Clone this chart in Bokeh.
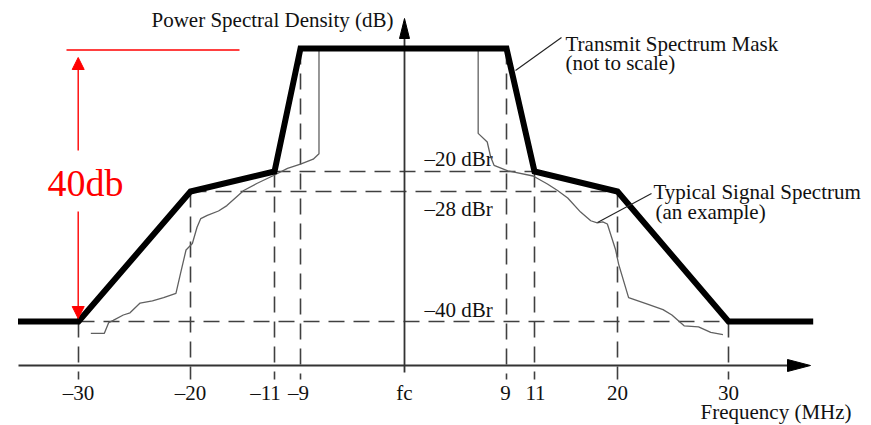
from bokeh.plotting import figure
from bokeh.models import ColumnDataSource, LinearInterpolator, Range1d, Arrow, NormalHead, Label
from bokeh.transform import transform
from bokeh.core.properties import value
from bokeh.embed import file_html
from bokeh.resources import INLINE
import numpy as np

# ---------------- data ----------------
FREQ_TICKS = [-30, -20, -11, -9, 0, 9, 11, 20, 30]
TICK_LABELS = ["\u201330", "\u201320", "\u201311", "\u20139", "fc", "9", "11", "20", "30"]

LEVELS_DBR = [-20, -28, -40]
LEVEL_LABELS = ["\u201320 dBr", "\u201328 dBr", "\u201340 dBr"]

MASK_FREQ = [-35.5, -30, -20, -11, -9, 9, 11, 20, 30, 37.7]
MASK_DBR = [-40, -40, -28, -20, 0, 0, -20, -28, -40, -40]

SIGNAL_FREQ = [-28.9, -27.7, -27.3, -26.9, -26.0, -25.4, -24.5, -23.4, -22.4, -21.3,
               -20.9, -20.4, -19.8, -19.3, -18.9, -18.2, -17.0, -16.1, -14.3, -12.9,
               -11.1, -10.0, -9.0, -7.9, -7.4, -7.4, 6.5, 6.5, 7.3, 7.6,
               7.9, 9.1, 10.9, 12.4, 13.5, 14.6, 16.0, 17.1, 17.8, 18.4,
               18.9, 19.8, 20.1, 21.0, 22.7, 24.1, 24.9, 26.0, 27.3, 28.4, 29.5]
SIGNAL_DBR = [-41.1, -41.1, -40.1, -39.9, -39.4, -39.2, -38.3, -38.1, -37.8, -37.4,
              -35.6, -33.4, -32.8, -31.3, -30.5, -30.2, -29.8, -29.3, -27.6, -24.8,
              -21.6, -19.5, -18.8, -18.0, -17.1, 0, 0, -13.8, -15.2, -17.6,
              -19.0, -19.9, -21.8, -25.0, -27.6, -28.6, -29.9, -30.7, -30.9, -30.8,
              -31.0, -33.4, -34.7, -37.8, -38.4, -38.9, -39.4, -40.4, -40.5, -41.0, -41.2]

# ---------------- "not to scale" axis scales (value -> drawing units) ----------------
FREQ_SCALE_IN = [-36, -30, -20, -11, -9, 0, 9, 11, 20, 30, 38]
FREQ_SCALE_OUT = [12, 78, 190, 274, 300, 404, 506, 534, 617, 728, 816]
DBR_SCALE_IN = [5, 0, -20, -28, -40, -48]
DBR_SCALE_OUT = [17, 48, 171, 191, 321, 408]

fx = LinearInterpolator(x=FREQ_SCALE_IN, y=FREQ_SCALE_OUT, clip=False)
fy = LinearInterpolator(x=DBR_SCALE_IN, y=DBR_SCALE_OUT, clip=False)

# ---------------- layout ----------------
W, H = 871, 425
FONT_NAME = "Liberation Serif"
FONT = value(FONT_NAME)
FS = "21px"
INK = "#111111"
GRID_C = "#404040"
AXIS_Y = 365
AXIS_X0 = 18
AXIS_TIP_X = 810
VAXIS_BOTTOM = 372
VAXIS_TIP_Y = 18
TICK_BOTTOM = 379
TICK_LABEL_Y = 392
TICK_LABEL_DX = [0, 0, -9, -2, 0, -1, 1, 0, 0]
LEVEL_LABEL_X = 424
LEVEL_LABEL_DY = [-13, 17, -12]

p = figure(width=W, height=H, x_range=Range1d(0, W), y_range=Range1d(H, 0),
           x_axis_type=None, y_axis_type=None, toolbar_location=None,
           output_backend="svg", min_border=0, outline_line_color=None)
p.background_fill_color = "white"
p.border_fill_color = "white"

# dashed vertical guides from the mask down to the tick marks
vt = [f for f in FREQ_TICKS if f != 0]
vtop = list(np.interp(vt, MASK_FREQ, MASK_DBR))
vsrc = ColumnDataSource(dict(f=vt, top=vtop))
p.segment(x0=transform("f", fx), y0=transform("top", fy), x1=transform("f", fx), y1=TICK_BOTTOM,
          source=vsrc, line_color=GRID_C, line_width=1.6, line_dash="16 9")

# dashed horizontal guides at the mask levels
mask_at_ticks = np.interp(FREQ_TICKS, MASK_FREQ, MASK_DBR)
h0, h1 = [], []
for lv in LEVELS_DBR:
    fs = [f for f, m in zip(FREQ_TICKS, mask_at_ticks) if abs(m - lv) < 1e-9]
    h0.append(min(fs)); h1.append(max(fs))
hsrc = ColumnDataSource(dict(f0=h0, f1=h1, lv=LEVELS_DBR, label=LEVEL_LABELS, dy=LEVEL_LABEL_DY))
p.segment(x0=transform("f0", fx), y0=transform("lv", fy), x1=transform("f1", fx), y1=transform("lv", fy),
          source=hsrc, line_color=GRID_C, line_width=1.6, line_dash="16 9")

# axes
p.segment(x0=AXIS_X0, y0=AXIS_Y, x1=AXIS_TIP_X - 20, y1=AXIS_Y, line_color="#333333", line_width=1.8)
p.patch(x=[AXIS_TIP_X - 23, AXIS_TIP_X, AXIS_TIP_X - 23], y=[AXIS_Y - 6, AXIS_Y, AXIS_Y + 6],
        fill_color="black", line_color="black")
fcsrc = ColumnDataSource(dict(f=[0]))
p.segment(x0=transform("f", fx), y0=VAXIS_BOTTOM, x1=transform("f", fx), y1=VAXIS_TIP_Y + 18,
          source=fcsrc, line_color="#333333", line_width=1.8)
p.patch(x=[399, 404, 409], y=[VAXIS_TIP_Y + 20, VAXIS_TIP_Y, VAXIS_TIP_Y + 20],
        fill_color="black", line_color="black")

# typical signal spectrum
ssrc = ColumnDataSource(dict(f=SIGNAL_FREQ, d=SIGNAL_DBR))
p.line(x=transform("f", fx), y=transform("d", fy), source=ssrc, line_color="#606060", line_width=1.3)

# transmit spectrum mask
msrc = ColumnDataSource(dict(f=MASK_FREQ, d=MASK_DBR))
p.line(x=transform("f", fx), y=transform("d", fy), source=msrc, line_color="black", line_width=6,
       line_join="miter")

# tick labels
tsrc = ColumnDataSource(dict(f=FREQ_TICKS, label=TICK_LABELS, dx=TICK_LABEL_DX))
p.text(x=transform("f", fx), y=TICK_LABEL_Y, x_offset="dx", text="label", source=tsrc, text_align="center",
       text_baseline="middle", text_font=FONT, text_font_size=FS, text_color=INK)

# level labels
p.text(x=LEVEL_LABEL_X, y=transform("lv", fy), y_offset="dy", text="label", source=hsrc,
       text_align="left", text_baseline="middle", text_font=FONT, text_font_size=FS, text_color=INK)

# leader lines for the callouts
p.segment(x0=[515, 597], y0=[70, 222], x1=[561, 651], y1=[37, 193], line_color="#222222", line_width=1.1)

def lab(x, y, t, **kw):
    opts = dict(text_font=FONT_NAME, text_font_size=FS, text_color=INK, text_baseline="middle",
                text_align="left")
    opts.update(kw)
    p.add_layout(Label(x=x, y=y, text=t, **opts))

lab(151, 19, "Power Spectral Density (dB)")
lab(565, 43, "Transmit Spectrum Mask")
lab(565, 62, "(not to scale)")
lab(653, 191, "Typical Signal Spectrum")
lab(655, 211, "(an example)")
lab(700, 411, "Frequency (MHz)")

# red 40 dB annotation
p.segment(x0=66, y0=49.5, x1=239, y1=49.5, line_color="#ff0000", line_width=1.4)
p.add_layout(Arrow(x_start=77.7, y_start=150, x_end=77.7, y_end=57, line_color="#ff0000", line_width=1.4,
                   end=NormalHead(size=12, fill_color="#ff0000", line_color="#ff0000")))
p.add_layout(Arrow(x_start=77.7, y_start=211, x_end=77.7, y_end=318, line_color="#ff0000", line_width=1.4,
                   end=NormalHead(size=12, fill_color="#ff0000", line_color="#ff0000")))
lab(47, 182, "40db", text_color="#ff0000", text_font_size="38px")

open("out.html", "w").write(file_html(p, INLINE))
